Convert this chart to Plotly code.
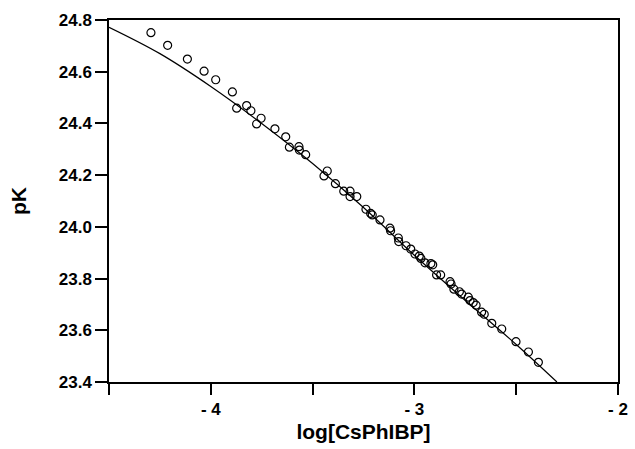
import plotly.graph_objects as go

# Measured data points (open circles)
x_pts = [-4.294, -4.212, -4.115, -4.033, -3.976, -3.894, -3.873, -3.824, -3.803, -3.753,
         -3.775, -3.685, -3.632, -3.614, -3.567, -3.565, -3.534, -3.444, -3.428, -3.388,
         -3.347, -3.316, -3.316, -3.283, -3.238, -3.215, -3.207, -3.169, -3.120, -3.117,
         -3.079, -3.077, -3.041, -3.018, -2.997, -2.976, -2.968, -2.948, -2.919, -2.910,
         -2.891, -2.871, -2.825, -2.820, -2.806, -2.779, -2.768, -2.735, -2.727, -2.711,
         -2.697, -2.670, -2.657, -2.620, -2.571, -2.501, -2.440, -2.391]
y_pts = [24.751, 24.702, 24.649, 24.602, 24.569, 24.522, 24.459, 24.469, 24.449, 24.420,
         24.398, 24.379, 24.348, 24.308, 24.310, 24.297, 24.279, 24.197, 24.216, 24.167,
         24.138, 24.138, 24.117, 24.117, 24.068, 24.052, 24.046, 24.027, 23.995, 23.985,
         23.957, 23.943, 23.927, 23.914, 23.895, 23.887, 23.878, 23.861, 23.858, 23.853,
         23.814, 23.814, 23.788, 23.779, 23.759, 23.749, 23.740, 23.728, 23.715, 23.707,
         23.697, 23.670, 23.662, 23.627, 23.605, 23.556, 23.516, 23.476]

# Fitted curve
x_fit = [-4.5, -4.25, -4.0, -3.75, -3.5, -3.25, -3.0, -2.75, -2.5, -2.3]
y_fit = [24.772, 24.67, 24.543, 24.40, 24.245, 24.075, 23.89, 23.715, 23.545, 23.40]

x_tickvals = [-4.5, -4.0, -3.5, -3.0, -2.5, -2.0]
x_ticktext = ["", "- 4", "", "- 3", "", "- 2"]
y_tickvals = [23.4, 23.6, 23.8, 24.0, 24.2, 24.4, 24.6, 24.8]
y_ticktext = ["23.4", "23.6", "23.8", "24.0", "24.2", "24.4", "24.6", "24.8"]

FONT = "Liberation Sans, Arial, sans-serif"

fig = go.Figure()
fig.add_trace(go.Scatter(x=x_fit, y=y_fit, mode="lines", line=dict(color="black", width=1.2, shape="spline"),
                         hoverinfo="skip", showlegend=False))
fig.add_trace(go.Scatter(x=x_pts, y=y_pts, mode="markers",
                         marker=dict(symbol="circle-open", size=8, color="black", line=dict(width=1.2)),
                         showlegend=False))

fig.update_layout(
    width=635, height=449,
    margin=dict(l=109, r=17, t=20, b=67),
    paper_bgcolor="white", plot_bgcolor="white",
    font=dict(family=FONT, color="black"),
    xaxis=dict(range=[-4.5, -2.0], tickvals=x_tickvals, ticktext=x_ticktext, automargin=False,
               showgrid=False, zeroline=False, showline=True, linecolor="black", linewidth=1.5,
               mirror=True, ticks="outside", ticklen=11, tickwidth=1.5, tickcolor="black",
               tickfont=dict(size=17, family=FONT, weight="bold"),
               title=dict(text="log[CsPhIBP]", font=dict(size=21, family=FONT, weight="bold"), standoff=6)),
    yaxis=dict(range=[23.4, 24.8], tickvals=y_tickvals, ticktext=y_ticktext, automargin=False,
               showgrid=False, zeroline=False, showline=True, linecolor="black", linewidth=1.5,
               mirror=True, ticks="outside", ticklen=12, tickwidth=1.5, tickcolor="black",
               tickfont=dict(size=17, family=FONT, weight="bold"),
               title=dict(text="pK", font=dict(size=21, family=FONT, weight="bold"), standoff=26)),
)

fig.write_html("out.html", config={"displayModeBar": False},
               post_script="document.body.style.margin='0';document.body.style.overflow='hidden';")
